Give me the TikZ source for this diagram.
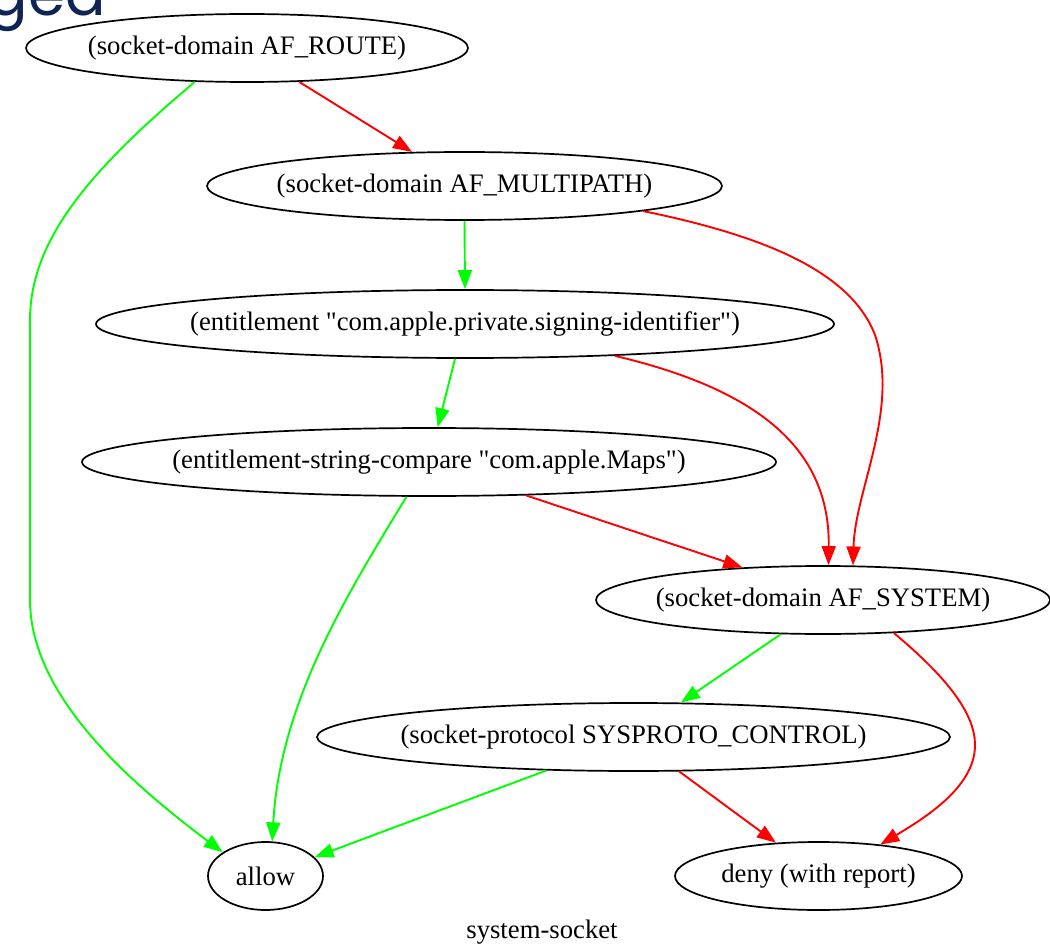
\documentclass[tikz,border=0pt]{standalone}
\usepackage{fontspec}
\setmainfont{Liberation Serif}
\newfontfamily\gv{Liberation Serif}
\newfontfamily\gedfont{Poppins}
\usetikzlibrary{shapes.geometric,arrows.meta}
\definecolor{gvgreen}{RGB}{0,255,0}
\definecolor{gvred}{RGB}{255,0,0}
\definecolor{navy}{RGB}{14,36,84}
\newcommand{\zt}[1]{\makebox[0pt]{#1}}
\tikzset{
  st/.style={draw=black, line width=1.7pt, ellipse, inner sep=0pt, font=\gv\fontsize{26.7}{30}\selectfont},
  yes/.style={draw=gvgreen, line width=1.9pt, -{Triangle[length=19pt,width=14pt]}},
  no/.style={draw=gvred, line width=1.9pt, -{Triangle[length=19pt,width=14pt]}, fill=none},
}
\begin{document}
\begin{tikzpicture}[x=1pt,y=-1pt]
\useasboundingbox (0,0) rectangle (1050,944);
\clip (0,0) rectangle (1050,944);
\fill[white] (0,0) rectangle (1050,944);
\node[anchor=base east, inner sep=0pt, text=navy, font=\gedfont\fontsize{60}{60}\selectfont] (ged) at (106,16) {ged};

\node[st, minimum width=442pt, minimum height=68pt] (R) at (247,48) {\zt{(socket-domain AF\_ROUTE)}};
\node[st, minimum width=515pt, minimum height=68pt] (M) at (464.5,186) {\zt{(socket-domain AF\_MULTIPATH)}};
\node[st, minimum width=738pt, minimum height=68pt] (E) at (465,324) {\zt{(entitlement "com.apple.private.signing-identifier")}};
\node[st, minimum width=694pt, minimum height=68pt] (S) at (429,462) {\zt{(entitlement-string-compare "com.apple.Maps")}};
\node[st, minimum width=454pt, minimum height=68pt] (Y) at (823,600) {\zt{(socket-domain AF\_SYSTEM)}};
\node[st, minimum width=633pt, minimum height=68pt] (P) at (633.5,737) {\zt{(socket-protocol SYSPROTO\_CONTROL)}};
\node[st, minimum width=115pt, minimum height=68pt] (A) at (265.5,876) {\zt{allow}};
\node[st, minimum width=287pt, minimum height=68pt] (D) at (818.5,876) {\zt{deny (with report)}};
\node[anchor=base, inner sep=0pt, font=\gv\fontsize{26.7}{30}\selectfont] (lbl) at (542,938) {system-socket};

% edges
\draw[no] (R.-33) -- (M.147);
\draw[yes] (R.-147) .. controls (90,170) and (30,240) .. (30,320) -- (30,600) .. controls (30,700) and (140,790) .. (A.151);
\draw[yes] (M.south) -- (E.north);
\draw[no] (M.-8.5) .. controls (760,235) and (850,270) .. (875,335) .. controls (900,410) and (855,490) .. (Y.49.5);
\draw[yes] (E.-106.4) -- (S.76.8);
\draw[no] (E.-12) .. controls (760,390) and (830,450) .. (Y.81.6);
\draw[no] (S.-19) -- (Y.158.9);
\draw[yes] (S.-123) .. controls (350,590) and (280,700) .. (A.79);
\draw[yes] (Y.-141.7) -- (P.36.2);
\draw[no] (Y.-25) .. controls (950,680) and (975,715) .. (975,745) .. controls (975,785) and (930,815) .. (D.27);
\draw[yes] (P.-159) -- (A.21.6);
\draw[no] (P.-37) -- (D.142);
\end{tikzpicture}
\end{document}
